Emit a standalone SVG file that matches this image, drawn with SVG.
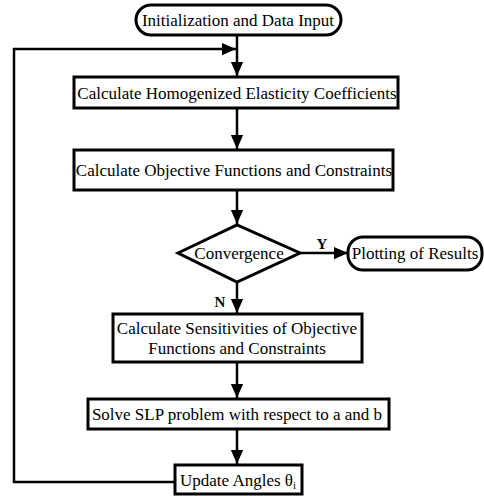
<svg xmlns="http://www.w3.org/2000/svg" width="484" height="496" viewBox="0 0 484 496">
<style>
.box{fill:#fff;stroke:#000;stroke-width:3}
.ln{fill:none;stroke:#000;stroke-width:2.5}
text{font-family:"Liberation Serif","Times New Roman",serif;font-size:17px;fill:#000;text-anchor:middle}
.lbl{font-weight:bold;font-size:15px}
</style>
<defs>
<marker id="ah" markerUnits="userSpaceOnUse" markerWidth="14" markerHeight="16" viewBox="0 0 16 14" refX="16" refY="7" orient="auto">
<path d="M0,0 L16,7 L0,14 Z" fill="#000"/>
</marker>
</defs>
<g id="connectors">
<line class="ln" x1="237" y1="35" x2="237" y2="76" marker-end="url(#ah)"/>
<polyline class="ln" points="175,482 14,482 14,49 236,49" marker-end="url(#ah)"/>
<line class="ln" x1="237" y1="108" x2="237" y2="149" marker-end="url(#ah)"/>
<line class="ln" x1="237" y1="190" x2="237" y2="224" marker-end="url(#ah)"/>
<line class="ln" x1="300" y1="253" x2="348" y2="253" marker-end="url(#ah)"/>
<line class="ln" x1="237" y1="282" x2="237" y2="313" marker-end="url(#ah)"/>
<line class="ln" x1="237" y1="362" x2="237" y2="398" marker-end="url(#ah)"/>
<line class="ln" x1="237" y1="429" x2="237" y2="464" marker-end="url(#ah)"/>
<text class="lbl" x="322" y="249">Y</text>
<text class="lbl" x="220" y="307">N</text>
</g>
<g id="start">
<rect class="box" x="136" y="5" width="205" height="30" rx="15"/>
<text x="238" y="26">Initialization and Data Input</text>
</g>
<g id="homog">
<rect class="box" x="74" y="77" width="324" height="31"/>
<text x="237" y="99">Calculate Homogenized Elasticity Coefficients</text>
</g>
<g id="objective">
<rect class="box" x="74" y="150" width="319" height="40"/>
<text x="234" y="176">Calculate Objective Functions and Constraints</text>
</g>
<g id="convergence">
<polygon class="box" points="178,253 237,225 300,253 237,282"/>
<text x="239" y="259">Convergence</text>
</g>
<g id="plotting">
<rect class="box" x="348" y="237" width="134" height="33" rx="15"/>
<text x="415" y="259">Plotting of Results</text>
</g>
<g id="sensitivities">
<rect class="box" x="113" y="314" width="249" height="48"/>
<text x="237" y="334">Calculate Sensitivities of Objective</text>
<text x="237" y="354">Functions and Constraints</text>
</g>
<g id="slp">
<rect class="box" x="88" y="399" width="301" height="30"/>
<text x="237" y="420">Solve SLP problem with respect to a and b</text>
</g>
<g id="update">
<rect class="box" x="175" y="465" width="127" height="29"/>
<text x="238" y="486">Update Angles θ<tspan font-size="11" dy="3">i</tspan></text>
</g>
</svg>
